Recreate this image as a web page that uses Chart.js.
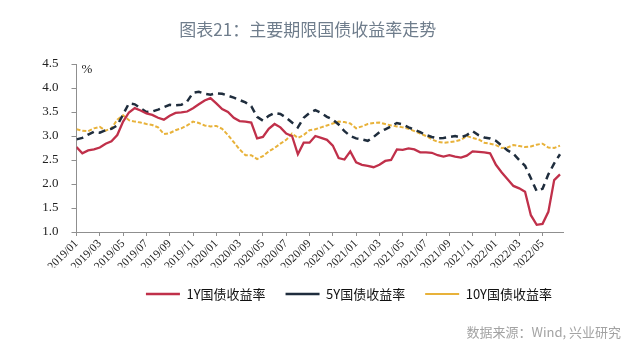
<!DOCTYPE html>
<html>
<head>
<meta charset="utf-8">
<script src="https://cdn.jsdelivr.net/npm/chart.js@4/dist/chart.umd.min.js"></script>
<style>
html,body{margin:0;padding:0;background:#ffffff;}
canvas{display:block;}
</style>
</head>
<body>
<canvas id="c" width="640" height="357"></canvas>
<script>
// ---- tick labels on the time axis (every two months) ----
const tickLabels = [
  '2019/01','2019/03','2019/05','2019/07','2019/09','2019/11',
  '2020/01','2020/03','2020/05','2020/07','2020/09','2020/11',
  '2021/01','2021/03','2021/05','2021/07','2021/09','2021/11',
  '2022/01','2022/03','2022/05'
];

// ---- sampling dates (1st and 16th of each month, 2019/01/01 .. 2022/06/16) ----
const sampleDates = [];
for (let yr = 2019; yr <= 2022; yr++) {
  for (let mo = 1; mo <= 12; mo++) {
    if (yr === 2022 && mo > 6) break;
    const mm = String(mo).padStart(2, '0');
    sampleDates.push(yr + '/' + mm + '/01');
    sampleDates.push(yr + '/' + mm + '/16');
  }
}

// ---- series values (%) ----
const yield1Y = [
  2.77,2.64,2.70,2.72,2.76,2.84,2.89,3.02,3.30,3.49,
  3.58,3.53,3.47,3.44,3.38,3.34,3.42,3.48,3.49,3.51,
  3.58,3.66,3.74,3.79,3.68,3.56,3.50,3.38,3.31,3.30,
  3.28,2.95,2.98,3.15,3.25,3.18,3.05,3.00,2.62,2.86,
  2.86,3.00,2.96,2.92,2.80,2.54,2.51,2.68,2.45,2.40,
  2.38,2.35,2.40,2.48,2.50,2.72,2.71,2.74,2.72,2.66,
  2.66,2.65,2.60,2.57,2.60,2.57,2.55,2.59,2.68,2.67,
  2.66,2.64,2.40,2.24,2.10,1.96,1.91,1.84,1.35,1.15,
  1.17,1.42,2.08,2.20
];
const yield5Y = [
  2.93,2.96,3.03,3.09,3.07,3.12,3.15,3.22,3.45,3.68,
  3.66,3.58,3.50,3.51,3.55,3.60,3.65,3.64,3.65,3.72,
  3.90,3.92,3.88,3.86,3.89,3.88,3.84,3.80,3.75,3.70,
  3.62,3.40,3.32,3.42,3.48,3.46,3.38,3.28,3.18,3.38,
  3.48,3.54,3.48,3.40,3.34,3.24,3.10,3.00,2.95,2.93,
  2.90,2.98,3.08,3.14,3.20,3.27,3.24,3.18,3.13,3.08,
  3.02,2.98,2.95,2.96,2.98,3.00,2.97,3.02,3.10,3.02,
  2.97,2.95,2.90,2.80,2.70,2.63,2.50,2.38,2.12,1.85,
  1.90,2.20,2.43,2.62
];
const yield10Y = [
  3.14,3.11,3.10,3.16,3.19,3.11,3.16,3.34,3.43,3.33,
  3.30,3.28,3.25,3.23,3.18,3.04,3.06,3.12,3.16,3.22,
  3.30,3.27,3.22,3.20,3.21,3.15,3.02,2.87,2.72,2.60,
  2.60,2.52,2.58,2.68,2.75,2.84,2.92,3.05,2.96,3.02,
  3.12,3.14,3.18,3.22,3.26,3.30,3.29,3.26,3.16,3.20,
  3.25,3.27,3.28,3.25,3.22,3.20,3.18,3.15,3.10,3.05,
  3.00,2.93,2.88,2.86,2.87,2.89,2.92,3.00,2.96,2.93,
  2.86,2.84,2.81,2.75,2.76,2.81,2.79,2.77,2.78,2.82,
  2.84,2.76,2.75,2.80
];
const seriesNames = ['1Y国债收益率', '5Y国债收益率', '10Y国债收益率'];

// months elapsed since 2019/01/01
function toMonths(s) {
  const p = s.split('/').map(Number);
  return (p[0] - 2019) * 12 + (p[1] - 1) + (p[2] - 1) / 30;
}
function toPoints(arr) {
  return arr.map((v, i) => ({ x: toMonths(sampleDates[i]), y: v }));
}

const extras = {
  id: 'extras',
  afterLayout(chart) {
    if (chart.titleBlock) { chart.titleBlock.left += 26; chart.titleBlock.right += 26; }
    if (chart.legend) { chart.legend.left += 8.5; chart.legend.right += 8.5; }
  },
  afterDraw(chart) {
    const ctx = chart.ctx;
    const a = chart.chartArea;
    ctx.save();
    ctx.fillStyle = '#222222';
    ctx.font = '13px "Liberation Serif"';
    ctx.textAlign = 'left';
    ctx.textBaseline = 'middle';
    ctx.fillText('%', a.left + 5, a.top + 6);
    ctx.fillStyle = '#a3a3a3';
    ctx.font = '13px "Noto Sans CJK SC"';
    ctx.textAlign = 'right';
    ctx.fillText('数据来源：Wind, 兴业研究', 621, 332);
    ctx.restore();
  }
};

const axisColor = '#8f8f8f';

new Chart(document.getElementById('c').getContext('2d'), {
  type: 'line',
  data: {
    datasets: [
      { label: seriesNames[0], data: toPoints(yield1Y), borderColor: '#C0304A', backgroundColor: '#C0304A',
        borderWidth: 2.3, pointRadius: 0, tension: 0 },
      { label: seriesNames[1], data: toPoints(yield5Y), borderColor: '#1F2D3D', backgroundColor: '#1F2D3D',
        borderWidth: 2.5, borderDash: [7, 5], pointRadius: 0, tension: 0 },
      { label: seriesNames[2], data: toPoints(yield10Y), borderColor: '#E8B23A', backgroundColor: '#E8B23A',
        borderWidth: 2, borderDash: [4, 2], pointRadius: 0, tension: 0 }
    ]
  },
  options: {
    responsive: false,
    animation: false,
    devicePixelRatio: 1,
    layout: { padding: { top: 0, right: 76.5, bottom: 46.5, left: 0 } },
    scales: {
      x: {
        type: 'linear', min: 0, max: 41.8,
        border: { display: true, color: axisColor, width: 1 },
        grid: { display: true, drawOnChartArea: false, drawTicks: true, tickLength: 4, color: axisColor },
        ticks: {
          stepSize: 2, autoSkip: false, includeBounds: false,
          maxRotation: 45, minRotation: 45, padding: 1,
          color: '#222222', font: { family: '"Liberation Serif"', size: 11.5 },
          callback: (v) => {
            const i = v / 2;
            return (Number.isInteger(i) && tickLabels[i] !== undefined) ? tickLabels[i] : null;
          }
        },
        afterFit: (s) => { s.height = 35.5; }
      },
      y: {
        min: 1, max: 4.5,
        border: { display: true, color: axisColor, width: 1 },
        grid: { display: true, drawOnChartArea: false, drawTicks: true, tickLength: 5, color: axisColor },
        ticks: {
          stepSize: 0.5, padding: 13, color: '#222222',
          font: { family: '"Liberation Serif"', size: 13 },
          callback: (v) => Number(v).toFixed(1)
        },
        afterFit: (s) => { s.width = 76.5; }
      }
    },
    plugins: {
      title: {
        display: true,
        text: '图表21：主要期限国债收益率走势',
        color: '#6f7d8c',
        font: { family: '"Noto Sans CJK SC"', size: 17, weight: 'normal' },
        padding: { top: 19, bottom: 24.6 }
      },
      legend: {
        position: 'bottom', align: 'end',
        labels: {
          usePointStyle: true, pointStyle: 'line', pointStyleWidth: 34,
          padding: 20, color: '#111111',
          font: { family: '"Noto Sans CJK SC"', size: 13 }
        }
      },
      tooltip: { enabled: false }
    }
  },
  plugins: [extras]
});
</script>
</body>
</html>
